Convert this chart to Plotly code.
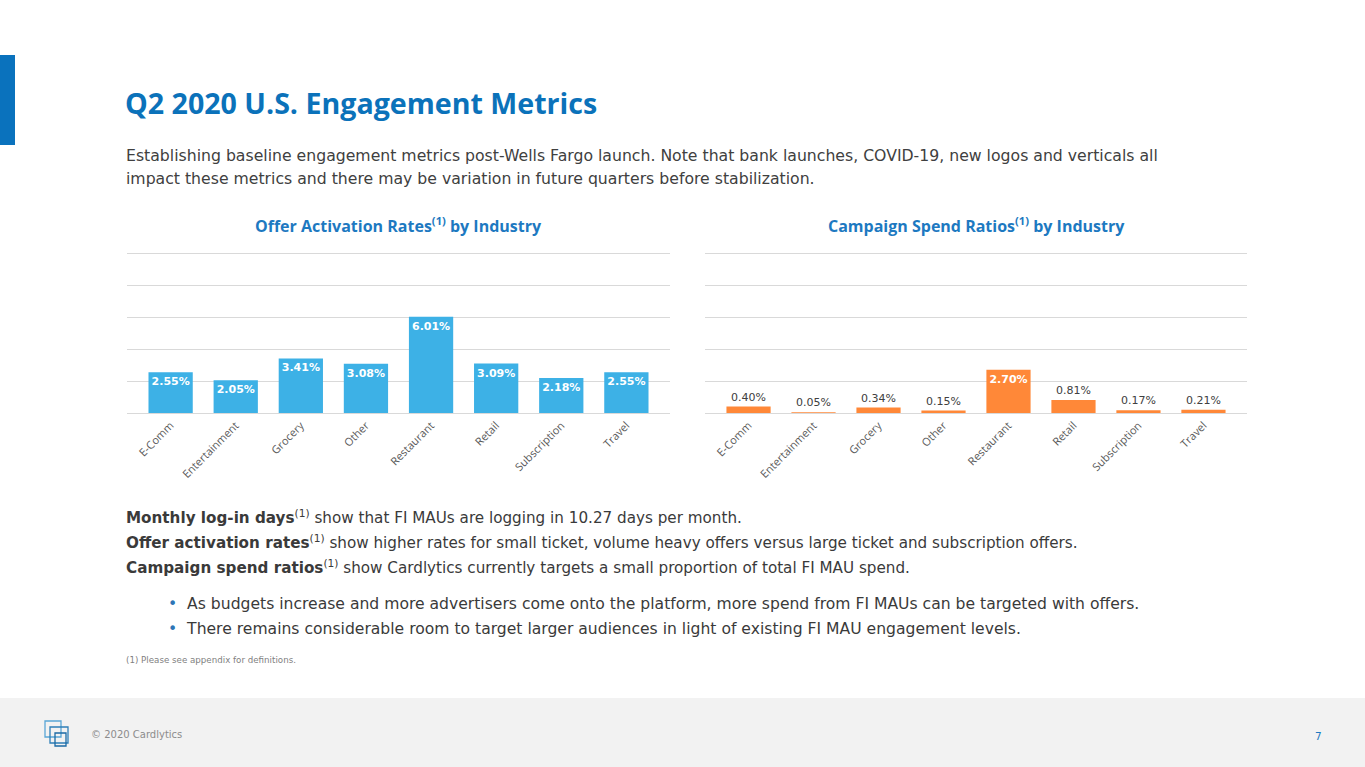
import plotly.graph_objects as go

W, H = 1365, 767

categories = ["E-Comm", "Entertainment", "Grocery", "Other", "Restaurant", "Retail", "Subscription", "Travel"]
activation_rates = [2.55, 2.05, 3.41, 3.08, 6.01, 3.09, 2.18, 2.55]
spend_ratios = [0.40, 0.05, 0.34, 0.15, 2.70, 0.81, 0.17, 0.21]
y_ticks = [0, 2, 4, 6, 8, 10]

BLUE_BAR = "#3DB1E6"
ORANGE_BAR = "#FF8838"
TITLE_BLUE = "#0B72BA"
TEXT = "#3A3A3A"
GRID = "#D9D9D9"
FONT = "Open Sans"
BODY = "DejaVu Sans"
LABEL_FONT = "DejaVu Sans"

Y_MAX = 10.3
PX_PER_UNIT = 16.0
BASE_PX = 413


def X(px):
    return px / W


def Y(py):
    return 1 - py / H


fig = go.Figure()

# Left chart: offer activation rates (labels inside, white bold)
fig.add_trace(go.Bar(
    x=categories, y=activation_rates,
    marker=dict(color=BLUE_BAR, line=dict(width=0)),
    text=[f"<b>{v:.2f}%</b>" for v in activation_rates],
    textposition="inside", insidetextanchor="end",
    textfont=dict(family=LABEL_FONT, size=11, color="white"),
    hoverinfo="skip", xaxis="x", yaxis="y", cliponaxis=False,
))

# Right chart: campaign spend ratios
inside = [v > 1.5 for v in spend_ratios]
fig.add_trace(go.Bar(
    x=categories, y=spend_ratios,
    marker=dict(color=ORANGE_BAR, line=dict(width=0)),
    text=[(f"<b>{v:.2f}%</b>" if ins else f"{v:.2f}%") for v, ins in zip(spend_ratios, inside)],
    textposition=["inside" if ins else "outside" for ins in inside],
    insidetextanchor="end",
    textfont=dict(family=LABEL_FONT, size=11,
                  color=["white" if ins else "#404040" for ins in inside]),
    hoverinfo="skip", xaxis="x2", yaxis="y2", cliponaxis=False,
))

xcommon = dict(tickangle=-45, tickfont=dict(family=FONT, size=11, color="#595959"),
               showgrid=False, zeroline=False, showline=False, ticks="",
               ticklabelstandoff=3,
               range=[-0.67, 7.67], fixedrange=True)
ycommon = dict(range=[0, Y_MAX], tickvals=y_ticks, showticklabels=False, showgrid=True,
               gridcolor=GRID, gridwidth=1, zeroline=True, zerolinecolor=GRID, zerolinewidth=1,
               showline=False, fixedrange=True)

top_px = BASE_PX - PX_PER_UNIT * Y_MAX

fig.update_layout(
    width=W, height=H,
    margin=dict(l=0, r=0, t=0, b=0),
    paper_bgcolor="white", plot_bgcolor="white",
    showlegend=False, bargap=0.32,
    uniformtext=dict(minsize=11, mode="show"),
    font=dict(family=FONT, color=TEXT),
    xaxis=dict(domain=[X(127), X(670)], anchor="y", **xcommon),
    yaxis=dict(domain=[Y(BASE_PX), Y(top_px)], anchor="x", **ycommon),
    xaxis2=dict(domain=[X(705), X(1247)], anchor="y2", **xcommon),
    yaxis2=dict(domain=[Y(BASE_PX), Y(top_px)], anchor="x2", **ycommon),
)

shapes = [
    # left accent bar
    dict(type="rect", xref="paper", yref="paper", x0=X(0), x1=X(15), y0=Y(145), y1=Y(55),
         fillcolor="#0A72BD", line=dict(width=0), layer="below"),
    # footer band
    dict(type="rect", xref="paper", yref="paper", x0=0, x1=1, y0=0, y1=Y(698),
         fillcolor="#F2F2F2", line=dict(width=0), layer="below"),
    # logo squares
    dict(type="rect", xref="paper", yref="paper", x0=X(45), x1=X(61), y0=Y(737), y1=Y(721),
         line=dict(color="#5AA6D6", width=1.3), fillcolor="rgba(0,0,0,0)"),
    dict(type="rect", xref="paper", yref="paper", x0=X(50), x1=X(68), y0=Y(743), y1=Y(727),
         line=dict(color="#2E7FB8", width=1.3), fillcolor="rgba(0,0,0,0)"),
    dict(type="rect", xref="paper", yref="paper", x0=X(55), x1=X(66), y0=Y(746), y1=Y(733),
         line=dict(color="#1B6AA5", width=1.3), fillcolor="rgba(0,0,0,0)"),
]
fig.update_layout(shapes=shapes)


def ann(text, px, py, size, color=TEXT, xanchor="left", family=BODY):
    fig.add_annotation(text=text, x=X(px), y=Y(py), xref="paper", yref="paper",
                       xanchor=xanchor, yanchor="middle", showarrow=False,
                       font=dict(family=family, size=size, color=color), align="left")


ann("<b>Q2 2020 U.S. Engagement Metrics</b>", 123, 102, 28.6, TITLE_BLUE, family=FONT)
ann("Establishing baseline engagement metrics post-Wells Fargo launch. Note that bank launches, COVID-19, new logos and verticals all",
    124, 155, 15.7, "#404040")
ann("impact these metrics and there may be variation in future quarters before stabilization.",
    124, 178, 15.7, "#404040")

ann("<b>Offer Activation Rates<sup>(1)</sup> by Industry</b>", 398, 225, 16, "#1D79C1", xanchor="center", family=FONT)
ann("<b>Campaign Spend Ratios<sup>(1)</sup> by Industry</b>", 976, 225, 16, "#1D79C1", xanchor="center", family=FONT)

ann("<b>Monthly log-in days</b><sup>(1)</sup> show that FI MAUs are logging in 10.27 days per month.", 124, 517, 15.2)
ann("<b>Offer activation rates</b><sup>(1)</sup> show higher rates for small ticket, volume heavy offers versus large ticket and subscription offers.",
    124, 542, 15.2)
ann("<b>Campaign spend ratios</b><sup>(1)</sup> show Cardlytics currently targets a small proportion of total FI MAU spend.",
    124, 567, 15.2)
ann("<span style='color:#2E75B6'>•</span>  As budgets increase and more advertisers come onto the platform, more spend from FI MAUs can be targeted with offers.",
    166, 604, 15.6)
ann("<span style='color:#2E75B6'>•</span>  There remains considerable room to target larger audiences in light of existing FI MAU engagement levels.",
    166, 629, 15.6)
ann("(1) Please see appendix for definitions.", 124, 660, 8.7, "#7F7F7F")

ann("© 2020 Cardlytics", 89, 734, 10, "#8C8C8C")
ann("7", 1318, 736, 10.5, "#1D79C1", xanchor="center")

fig.write_html("out.html", config={"displayModeBar": False},
               post_script="document.body.style.margin='0';")
